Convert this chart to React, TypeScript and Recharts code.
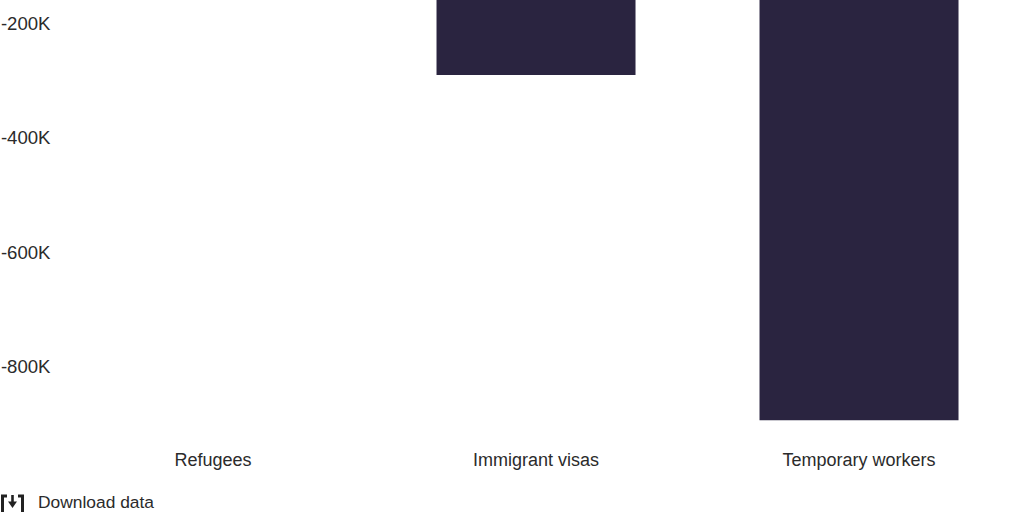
import { BarChart, Bar, XAxis, YAxis } from "recharts";

const categories = ["Refugees", "Immigrant visas", "Temporary workers"];
const values = [-100000, -289000, -893000];
const yTicks = [0, -200000, -400000, -600000, -800000];

const data = categories.map((name, i) => ({ name, value: values[i] }));

const formatK = (v: number) => (v === 0 ? "0" : `-${Math.abs(v) / 1000}K`);
const FONT = "'Liberation Sans', Arial, sans-serif";

export default function App() {
  return (
    <div
      style={{
        position: "fixed",
        left: 0,
        top: 0,
        width: 1024,
        height: 512,
        overflow: "hidden",
        background: "#fff",
        fontFamily: FONT,
      }}
    >
      <div style={{ position: "absolute", left: 0, top: -100 }}>
        <BarChart
          width={1024}
          height={590}
          data={data}
          barCategoryGap="19.2%"
          margin={{ top: 9.7, right: 3.5, bottom: 35.8, left: 0 }}
        >
          <YAxis
            width={51.5}
            domain={[-900000, 0]}
            ticks={yTicks}
            tickFormatter={formatK}
            axisLine={false}
            tickLine={false}
            tickSize={0}
            tickMargin={1}
            tick={{ fill: "#2b2b2b", fontSize: 18.6, fontFamily: FONT, dy: -0.5 }}
          />
          <XAxis
            dataKey="name"
            orientation="bottom"
            axisLine={false}
            tickLine={false}
            interval={0}
            tickMargin={23}
            tick={{ fill: "#2b2b2b", fontSize: 18, fontFamily: FONT }}
          />
          <Bar dataKey="value" fill="#2a2440" isAnimationActive={false} />
        </BarChart>
      </div>
      <div
        style={{
          position: "absolute",
          left: 0,
          top: 491,
          display: "flex",
          alignItems: "center",
          height: 22,
          color: "#2b2b2b",
          fontSize: 17.4,
        }}
      >
        <svg width={26} height={22} viewBox="0 0 26 22" style={{ marginRight: 12 }}>
          <path d="M7 5H2.5V22" fill="none" stroke="#222" strokeWidth={3} />
          <path d="M18 5H22.5V22" fill="none" stroke="#222" strokeWidth={3} />
          <path d="M12.5 4V13" fill="none" stroke="#222" strokeWidth={2.6} />
          <path d="M8 10.5L12.5 17L17 10.5Z" fill="#222" />
        </svg>
        <span>Download data</span>
      </div>
    </div>
  );
}
